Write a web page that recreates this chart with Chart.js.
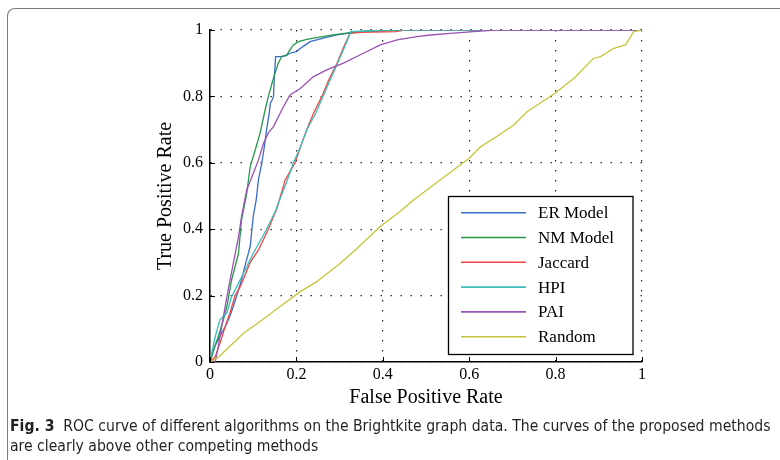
<!DOCTYPE html>
<html>
<head>
<meta charset="utf-8">
<script src="https://cdn.jsdelivr.net/npm/chart.js@4"></script>
<style>
  html, body { margin: 0; padding: 0; background: #fff; }
  body { width: 780px; height: 460px; position: relative; overflow: hidden; }
  #frame {
    position: absolute; left: 7px; top: 8px; width: 800px; height: 480px;
    border-left: 1.5px solid #7d7d7d; border-top: 1.5px solid #7d7d7d;
    border-top-left-radius: 8px;
  }
  #chart { position: absolute; left: 0; top: 0; }
  #caption {
    position: absolute; left: 10px; top: 417px; width: 790px; white-space: nowrap;
    font-family: "DejaVu Sans Condensed", "Liberation Sans Narrow", "Open Sans", sans-serif;
    font-size: 15.6px; line-height: 19.5px; color: #231f20;
  }
  #caption b { font-weight: bold; }
</style>
</head>
<body>
<div id="frame"></div>
<canvas id="chart" width="780" height="460"></canvas>
<div id="caption"><b>Fig. 3</b>&nbsp; ROC curve of different algorithms on the Brightkite graph data. The curves of the proposed methods<br>are clearly above other competing methods</div>
<script>
/* ===================================================== */
/* DATA                                                    */
/* ===================================================== */

const seriesNames = ['ER Model', 'NM Model', 'Jaccard', 'HPI', 'PAI', 'Random'];
const seriesColors = ['#3b6cc8', '#26984c', '#f04848', '#3cbdbd', '#9a52b4', '#c6c43a'];

const erX = [0, 0.005, 0.012, 0.022, 0.035, 0.045, 0.054, 0.063, 0.073, 0.083, 0.093, 0.1, 0.107, 0.112, 0.12, 0.126, 0.131, 0.136, 0.14, 0.144, 0.147, 0.149, 0.152, 0.165, 0.175, 0.185, 0.2, 0.215, 0.232, 0.26, 0.294, 0.33, 0.36, 0.4, 0.5, 1];
const erY = [0, 0.025, 0.05, 0.075, 0.106, 0.135, 0.167, 0.205, 0.247, 0.3, 0.347, 0.438, 0.488, 0.548, 0.6, 0.65, 0.7, 0.74, 0.78, 0.79, 0.8, 0.86, 0.92, 0.92, 0.922, 0.93, 0.935, 0.95, 0.965, 0.975, 0.985, 0.992, 0.995, 0.998, 1, 1];

const nmX = [0, 0.004, 0.012, 0.019, 0.031, 0.039, 0.05, 0.066, 0.073, 0.085, 0.093, 0.105, 0.116, 0.126, 0.135, 0.148, 0.158, 0.166, 0.178, 0.185, 0.193, 0.205, 0.224, 0.25, 0.285, 0.324, 0.36, 0.45, 1];
const nmY = [0, 0.016, 0.05, 0.076, 0.127, 0.167, 0.247, 0.327, 0.428, 0.508, 0.588, 0.64, 0.69, 0.75, 0.8, 0.86, 0.9, 0.92, 0.925, 0.94, 0.955, 0.965, 0.972, 0.978, 0.985, 0.992, 0.997, 1, 1];

const jacX = [0, 0.012, 0.023, 0.035, 0.046, 0.058, 0.07, 0.093, 0.112, 0.135, 0.155, 0.174, 0.197, 0.21, 0.224, 0.24, 0.259, 0.275, 0.294, 0.31, 0.324, 0.35, 0.43, 0.45, 1];
const jacY = [0, 0.016, 0.056, 0.106, 0.147, 0.2, 0.227, 0.3, 0.337, 0.4, 0.463, 0.548, 0.6, 0.65, 0.7, 0.75, 0.8, 0.85, 0.9, 0.95, 0.99, 0.993, 0.995, 1, 1];

const hpiX = [0, 0.004, 0.012, 0.023, 0.039, 0.05, 0.062, 0.085, 0.1, 0.131, 0.151, 0.179, 0.193, 0.21, 0.224, 0.245, 0.263, 0.28, 0.297, 0.312, 0.326, 0.36, 0.4, 1];
const hpiY = [0, 0.026, 0.076, 0.127, 0.147, 0.197, 0.227, 0.287, 0.327, 0.4, 0.453, 0.548, 0.6, 0.65, 0.699, 0.75, 0.804, 0.855, 0.905, 0.95, 0.995, 0.997, 1, 1];

const paiX = [0, 0.012, 0.019, 0.027, 0.035, 0.042, 0.054, 0.066, 0.073, 0.085, 0.1, 0.112, 0.124, 0.135, 0.147, 0.166, 0.185, 0.209, 0.239, 0.27, 0.309, 0.355, 0.394, 0.433, 0.479, 0.51, 0.556, 0.61, 0.66, 1];
const paiY = [0, 0, 0.046, 0.106, 0.167, 0.217, 0.297, 0.377, 0.438, 0.518, 0.568, 0.608, 0.659, 0.69, 0.709, 0.759, 0.804, 0.824, 0.859, 0.88, 0.9, 0.93, 0.955, 0.97, 0.98, 0.985, 0.99, 0.995, 1, 1];

const rndX = [0, 0.02, 0.054, 0.077, 0.131, 0.162, 0.209, 0.247, 0.301, 0.34, 0.394, 0.44, 0.471, 0.548, 0.6, 0.626, 0.664, 0.703, 0.734, 0.796, 0.842, 0.888, 0.904, 0.935, 0.962, 0.981, 1];
const rndY = [0, 0.015, 0.057, 0.086, 0.136, 0.167, 0.212, 0.242, 0.297, 0.342, 0.408, 0.453, 0.488, 0.563, 0.614, 0.648, 0.679, 0.714, 0.754, 0.807, 0.854, 0.915, 0.92, 0.945, 0.955, 0.995, 1];

const xTickLabels = ['0', '0.2', '0.4', '0.6', '0.8', '1'];
const yTickLabels = ['0', '0.2', '0.4', '0.6', '0.8', '1'];

/* ===================================================== */
/* HELPERS                                                 */
/* ===================================================== */

const SERIF = '"Liberation Serif", "Times New Roman", serif';

function toPoints(xs, ys) {
    return xs.map((x, i) => ({ x: x, y: ys[i] }));
}

function tickLabel(list) {
    return value => {
        const i = Math.round(value / 0.2);
        return list[i] !== undefined ? list[i] : '';
    };
}

// MATLAB style inward tick marks on left and bottom axes
const innerTicks = {
    id: 'innerTicks',
    afterDatasetsDraw(chart) {
        const { ctx, chartArea, scales } = chart;
        ctx.save();
        ctx.strokeStyle = '#000';
        ctx.lineWidth = 1;
        scales.x.ticks.forEach(t => {
            const px = Math.round(scales.x.getPixelForValue(t.value)) + 0.5;
            ctx.beginPath();
            ctx.moveTo(px, chartArea.bottom);
            ctx.lineTo(px, chartArea.bottom - 5);
            ctx.stroke();
        });
        scales.y.ticks.forEach(t => {
            const py = Math.round(scales.y.getPixelForValue(t.value)) + 0.5;
            ctx.beginPath();
            ctx.moveTo(chartArea.left, py);
            ctx.lineTo(chartArea.left + 5, py);
            ctx.stroke();
        });
        ctx.restore();
    }
};

// boxed legend sitting inside the plot
const boxLegend = {
    id: 'boxLegend',
    afterDraw(chart) {
        const ctx = chart.ctx;
        const box = { left: 448.5, top: 196.5, right: 633, bottom: 354.5 };
        ctx.save();
        ctx.fillStyle = '#fff';
        ctx.fillRect(box.left, box.top, box.right - box.left, box.bottom - box.top);
        ctx.strokeStyle = '#000';
        ctx.lineWidth = 1.3;
        ctx.strokeRect(box.left, box.top, box.right - box.left, box.bottom - box.top);
        ctx.font = '17px ' + SERIF;
        ctx.textBaseline = 'middle';
        ctx.textAlign = 'left';
        chart.data.datasets.forEach((ds, i) => {
            const y = 212.7 + i * 24.8;
            ctx.strokeStyle = ds.borderColor;
            ctx.lineWidth = 1.6;
            ctx.beginPath();
            ctx.moveTo(461, y);
            ctx.lineTo(526, y);
            ctx.stroke();
            ctx.fillStyle = '#000';
            ctx.fillText(ds.label, 538, y + 1);
        });
        ctx.restore();
    }
};

/* ===================================================== */
/* CHART                                                   */
/* ===================================================== */

const seriesPoints = [
    toPoints(erX, erY),
    toPoints(nmX, nmY),
    toPoints(jacX, jacY),
    toPoints(hpiX, hpiY),
    toPoints(paiX, paiY),
    toPoints(rndX, rndY)
];

const datasets = seriesNames.map((name, i) => ({
    label: name,
    data: seriesPoints[i],
    borderColor: seriesColors[i],
    backgroundColor: seriesColors[i],
    borderWidth: 1.3,
    pointRadius: 0,
    showLine: true,
    tension: 0,
    order: seriesNames.length - i
}));

const gridStyle = {
    color: '#222',
    lineWidth: 1.2,
    drawTicks: false
};

new Chart(document.getElementById('chart'), {
    type: 'scatter',
    data: { datasets: datasets },
    plugins: [innerTicks, boxLegend],
    options: {
        responsive: false,
        animation: false,
        devicePixelRatio: 1,
        layout: { padding: { left: 150, right: 138, top: 30, bottom: 45 } },
        plugins: {
            legend: { display: false },
            tooltip: { enabled: false }
        },
        scales: {
            x: {
                type: 'linear',
                min: 0,
                max: 1,
                afterFit: scale => { scale.height = 53; },
                grid: gridStyle,
                border: { display: true, color: '#000', width: 1.5, dash: [1.4, 8.6] },
                ticks: {
                    stepSize: 0.2,
                    padding: 3,
                    color: '#000',
                    maxRotation: 0,
                    font: { family: SERIF, size: 16 },
                    callback: tickLabel(xTickLabels)
                },
                title: {
                    display: true,
                    text: 'False Positive Rate',
                    color: '#000',
                    padding: { top: 0, bottom: 5 },
                    font: { family: SERIF, size: 20 }
                }
            },
            y: {
                type: 'linear',
                min: 0,
                max: 1,
                afterFit: scale => { scale.width = 60; },
                grid: gridStyle,
                border: { display: true, color: '#000', width: 1.5, dash: [1.4, 8.6] },
                ticks: {
                    stepSize: 0.2,
                    padding: 7,
                    color: '#000',
                    font: { family: SERIF, size: 16 },
                    callback: tickLabel(yTickLabels)
                },
                title: {
                    display: true,
                    text: 'True Positive Rate',
                    color: '#000',
                    padding: { top: 4, bottom: 0 },
                    font: { family: SERIF, size: 20 }
                }
            }
        }
    }
});
</script>
</body>
</html>
